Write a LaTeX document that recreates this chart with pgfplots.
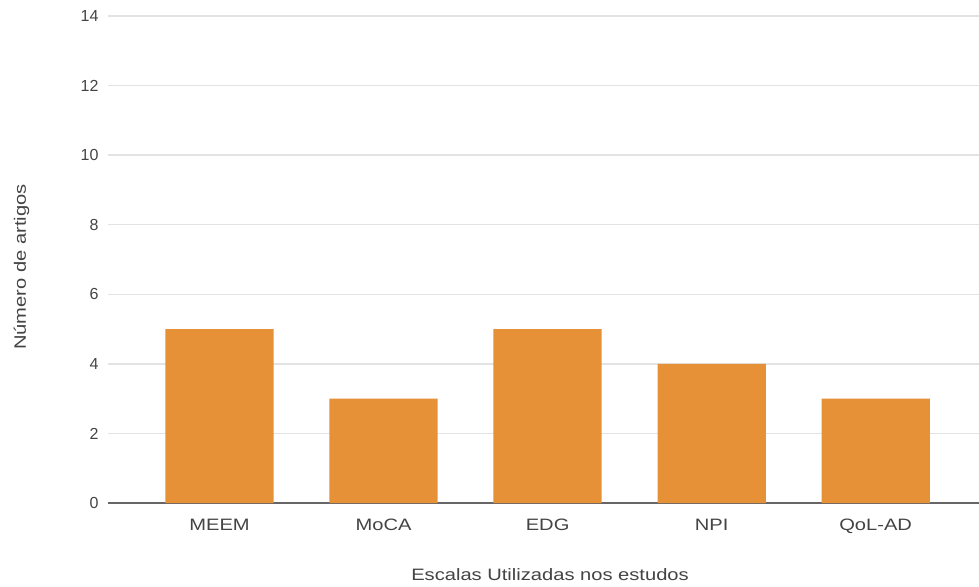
\documentclass[border=0pt]{standalone}
\usepackage{pgfplots}
\pgfplotsset{compat=1.18}
\usepackage{fontspec}
\setmainfont{Liberation Sans}
\newfontfamily\widefont[FakeStretch=1.22]{Liberation Sans}
\definecolor{barorange}{HTML}{E69138}
\definecolor{gridgray}{HTML}{E3E3E3}
\definecolor{textgray}{HTML}{444444}

\begin{document}
\begin{tikzpicture}
\useasboundingbox (0,0) rectangle (979pt,586pt);
\begin{axis}[
    at={(108pt,83pt)}, anchor=south west,
    scale only axis,
    width=871pt, height=487pt,
    xmin=-0.68, xmax=4.63,
    ymin=0, ymax=14,
    ytick={0,2,...,14},
    xtick=data,
    xticklabels={MEEM,MoCA,EDG,NPI,QoL-AD},
    axis x line*=bottom,
    axis y line*=left,
    x axis line style={draw=gray!80!black, line width=1.3pt, -},
    y axis line style={draw=none},
    ymajorgrids=true,
    grid style={gridgray, line width=1.3pt},
    major tick length=0pt,
    tick style={draw=none},
    ylabel={Número de artigos},
    xlabel={Escalas Utilizadas nos estudos},
    ylabel style={at={(axis description cs:-0.0993,0.4846)}, anchor=center, rotate=0,
        font=\widefont\fontsize{16.5}{18}\selectfont, text=textgray},
    xlabel style={at={(axis description cs:0.5075,-0.148)}, anchor=center,
        font=\widefont\fontsize{16.5}{18}\selectfont, text=textgray},
    yticklabel style={anchor=east, xshift=-6pt,
        font=\fontsize{16}{18}\selectfont, text=textgray},
    xticklabel style={anchor=base, yshift=-27pt,
        font=\widefont\fontsize{16.5}{18}\selectfont, text=textgray},
    /pgf/number format/assume math mode=true,
    ybar, bar width=0.66,
    clip=false,
]
\addplot[fill=barorange, draw=none] coordinates {
    (0,5) (1,3) (2,5) (3,4) (4,3)
};
\end{axis}
\end{tikzpicture}
\end{document}
